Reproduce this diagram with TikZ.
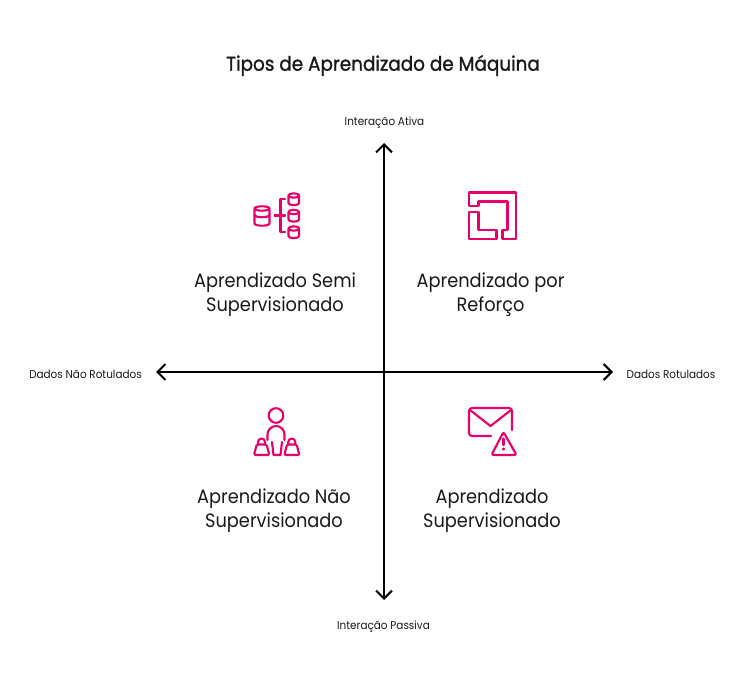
\documentclass[tikz,border=0pt]{standalone}
\usepackage{fontspec}
\setmainfont[FakeStretch=0.92]{Poppins}
\usetikzlibrary{arrows.meta}
\definecolor{iconpink}{RGB}{230,0,105}

\begin{document}
\begin{tikzpicture}[x=0.75pt,y=-0.75pt]
    \tikzstyle{every node}=[text=black!90,align=center,inner sep=0pt]
    \tikzstyle{axis}=[draw=black,line width=1.5pt,{Straight Barb[length=6pt,width=12pt,line width=1.5pt]}-{Straight Barb[length=6pt,width=12pt,line width=1.5pt]}]
    \tikzstyle{icon}=[draw=iconpink,line width=1.6pt,line join=round,line cap=round]
    \tikzstyle{small}=[font=\fontsize{8.5}{10}\selectfont]
    \tikzstyle{big}=[font=\fontsize{14.5}{18}\selectfont]
    \newcommand{\disk}[4]{% left, top, width, height
        \draw[icon] (#1,#2+2) arc[x radius=#3/2,y radius=2.2,start angle=180,end angle=540]
            -- (#1,#2+#4-2) arc[x radius=#3/2,y radius=2.2,start angle=180,end angle=0]
            -- (#1+#3,#2+2);}
    \useasboundingbox (0,0) rectangle (745,684);

    \node (title) at (383,65.5) {\fontsize{15}{18}\selectfont\addfontfeature{FakeBold=1.2}Tipos de Aprendizado de Máquina};

    \coordinate (top) at (384,143);
    \coordinate (bottom) at (384,600);
    \coordinate (left) at (156,372);
    \coordinate (right) at (613,372);
    \draw[axis] (top) -- (bottom);
    \draw[axis] (left) -- (right);

    \node[small] (ativa) at (384.5,123) {Interação Ativa};
    \node[small] (passiva) at (383.5,627) {Interação Passiva};
    \node[small] (naorot) at (85.5,374.5) {Dados Não Rotulados};
    \node[small] (rot) at (671,374.5) {Dados Rotulados};

    \node[big] (semi) at (275,294.5) {Aprendizado Semi\\Supervisionado};
    \node[big] (reforco) at (490.5,294.5) {Aprendizado por\\Reforço};
    \node[big] (naosup) at (274,510.5) {Aprendizado Não\\Supervisionado};
    \node[big] (sup) at (492,510.5) {Aprendizado\\Supervisionado};

    % semi supervisionado
    \disk{254.5}{206.5}{15}{19}
    \draw[icon] (254.5,215) arc[x radius=7.5,y radius=2.2,start angle=180,end angle=0];
    \draw[icon] (274.5,215.5) -- (285,215.5);
    \draw[icon] (285,199) -- (280.5,199) -- (280.5,232) -- (285,232);
    \disk{288.5}{193.5}{10.5}{11.5}
    \disk{288.5}{210}{10.5}{11.5}
    \disk{288.5}{226.5}{10.5}{11.5}

    % reforco
    \draw[icon] (469,192.5) -- (516,192.5) -- (516,239) -- (502.5,239) -- (502.5,230) -- (507.5,230)
        -- (507.5,201.5) -- (478.5,201.5) -- (478.5,206) -- (469,206) -- cycle;
    \draw[icon] (469,212) -- (478.5,212) -- (478.5,230) -- (496.5,230) -- (496.5,239) -- (469,239) -- cycle;

    % nao supervisionado
    \draw[icon] (276,415.5) circle[radius=7.3];
    \draw[icon] (267.5,440) -- (267.5,434.5) arc[radius=8.5,start angle=180,end angle=360] -- (284.5,440);
    \draw[icon] (272,442) -- (273.5,455) -- (280.5,455) -- (282,442);
    \draw[icon,rounded corners=1pt] (256.7,444.5) -- (266.7,444.5) -- (269.3,455) -- (254,455) -- cycle;
    \draw[icon] (258,444.5) -- (258,442) arc[radius=3.5,start angle=180,end angle=360] -- (265,444.5);
    \draw[icon,rounded corners=1pt] (287,444.5) -- (296.7,444.5) -- (299.3,455) -- (284.3,455) -- cycle;
    \draw[icon] (288.3,444.5) -- (288.3,442) arc[radius=3.5,start angle=180,end angle=360] -- (295.3,444.5);

    % supervisionado
    \draw[icon] (491,436) -- (472,436) arc[radius=3,start angle=90,end angle=180]
        -- (469,411) arc[radius=3,start angle=180,end angle=270]
        -- (509,408) arc[radius=3,start angle=270,end angle=360] -- (512,430);
    \draw[icon] (470,410) -- (490.5,426) -- (511,410);
    \draw[icon,rounded corners=1.5pt] (503.5,432) -- (516.5,455) -- (491.5,455) -- cycle;
    \draw[icon] (503.5,438.5) -- (503.5,445);
    \draw[icon,line width=0.9pt] (503.5,449) circle[radius=1];
\end{tikzpicture}
\end{document}
